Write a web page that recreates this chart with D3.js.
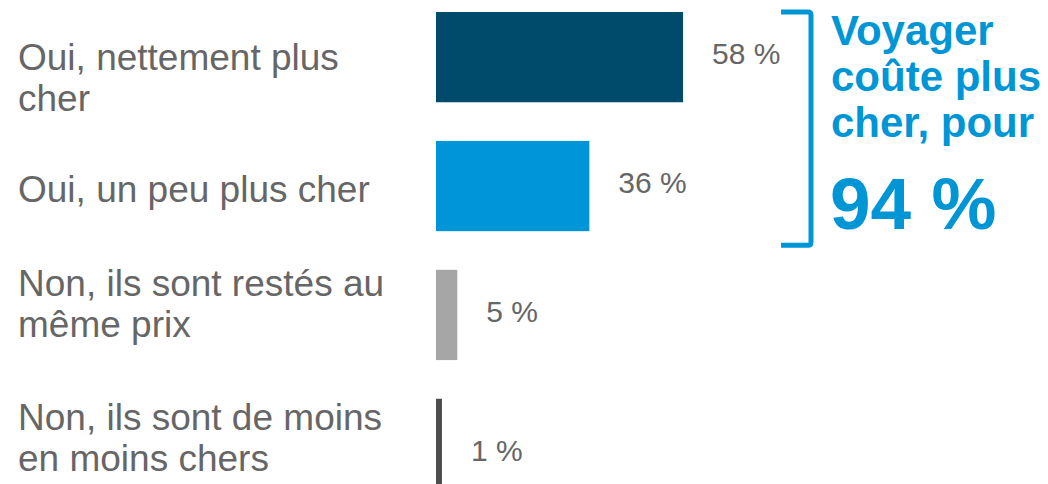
<!DOCTYPE html>
<html>
<head>
<meta charset="utf-8">
<script src="https://cdn.jsdelivr.net/npm/d3@7"></script>
<style>
  body { margin: 0; background: #fff; }
  svg { display: block; font-family: "Liberation Sans", Arial, sans-serif; }
</style>
</head>
<body>
<svg width="1048" height="484"></svg>
<script>
// data
var categories = [
  ["Oui, nettement plus", "cher"],
  ["Oui, un peu plus cher"],
  ["Non, ils sont restés au", "même prix"],
  ["Non, ils sont de moins", "en moins chers"]
];
var values = [58, 36, 5, 1.4];
var valueLabels = ["58 %", "36 %", "5 %", "1 %"];
var calloutLines = ["Voyager", "coûte plus", "cher, pour"];
var calloutValue = "94 %";

var colors = ["#004a6b", "#0095d8", "#a6a6a6", "#4d4d4d"];
var blue = "#0096d6";
var grey = "#666666";

// small per-row nudges so labels sit like in the source slide
var labelNudge = [20, 3, -11, -6];
var valueNudge = [0, 0, 0, 10];

var svg = d3.select("svg");

var x = d3.scaleLinear().domain([0, 100]).range([436, 862]);
var y = d3.scaleBand()
    .domain(d3.range(categories.length))
    .range([12, 489])
    .paddingInner(0.3)
    .paddingOuter(0);

var rows = svg.append("g").selectAll("g")
    .data(values)
    .enter().append("g");

rows.append("rect")
    .attr("x", x(0))
    .attr("y", (d, i) => y(i))
    .attr("width", d => x(d) - x(0))
    .attr("height", y.bandwidth())
    .attr("fill", (d, i) => colors[i]);

rows.append("text")
    .attr("x", d => x(d) + 29)
    .attr("y", (d, i) => y(i) + y.bandwidth() / 2 + 7 + valueNudge[i])
    .attr("fill", grey)
    .style("font-size", "30px")
    .text((d, i) => valueLabels[i]);

// category labels (wrapped as in the source)
var lineH = 41;
svg.append("g").selectAll("text")
    .data(categories)
    .enter().append("text")
    .attr("x", 18)
    .attr("y", (d, i) => y(i) + y.bandwidth() / 2 - (d.length - 1) * lineH / 2 + 13 + labelNudge[i])
    .attr("fill", grey)
    .style("font-size", "37px")
    .each(function(d) {
      var t = d3.select(this);
      var x0 = t.attr("x");
      d.forEach((line, j) => {
        t.append("tspan").attr("x", x0).attr("dy", j ? lineH : 0).text(line);
      });
    });

// bracket around the two "plus cher" bars
var bTop = y(0), bBot = y(1) + y.bandwidth() + 14;
var bx0 = 781, bx1 = 811;
svg.append("path")
    .attr("d", "M" + bx0 + "," + bTop + "H" + (bx1 - 3) + "Q" + bx1 + "," + bTop + " " + bx1 + "," + (bTop + 3) +
               "V" + (bBot - 3) + "Q" + bx1 + "," + bBot + " " + (bx1 - 3) + "," + bBot + "H" + bx0)
    .attr("fill", "none")
    .attr("stroke", blue)
    .attr("stroke-width", 5);

var callout = svg.append("g").attr("fill", blue).style("font-weight", "bold");
callout.append("text")
    .attr("x", 831)
    .attr("y", 45)
    .style("font-size", "42px")
    .selectAll("tspan")
    .data(calloutLines)
    .enter().append("tspan")
    .attr("x", 831)
    .attr("dy", (d, i) => i ? 46 : 0)
    .text(d => d);

callout.append("text")
    .attr("x", 830)
    .attr("y", 229)
    .style("font-size", "73px")
    .text(calloutValue);
</script>
</body>
</html>
